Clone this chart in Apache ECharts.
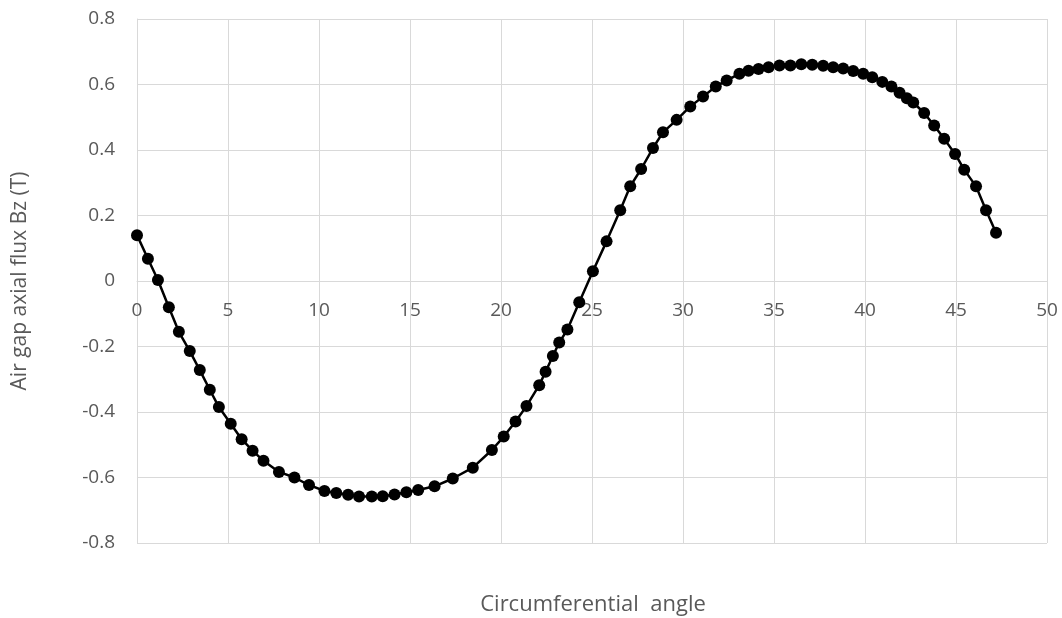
<!DOCTYPE html>
<html>
<head>
<meta charset="utf-8">
<script src="https://cdn.jsdelivr.net/npm/echarts@6/dist/echarts.min.js"></script>
<style>
html,body{margin:0;padding:0;background:#fff;}
#chart{width:1062px;height:618px;}
</style>
</head>
<body>
<div id="chart"></div>
<script>
const angles = [0.0,0.6,1.15,1.75,2.3,2.9,3.45,4.0,4.5,5.15,5.75,6.35,6.95,7.8,8.65,9.45,10.3,10.95,11.6,12.2,12.9,13.5,14.15,14.8,15.45,16.35,17.35,18.45,19.5,20.15,20.8,21.4,22.1,22.45,22.85,23.2,23.65,24.3,25.05,25.8,26.55,27.1,27.7,28.35,28.9,29.65,30.4,31.1,31.8,32.4,33.1,33.6,34.15,34.7,35.3,35.9,36.5,37.1,37.7,38.25,38.8,39.35,39.9,40.4,40.95,41.45,41.9,42.3,42.65,43.25,43.8,44.35,44.95,45.45,46.1,46.65,47.2];
const bz = [0.14,0.068,0.003,-0.080,-0.155,-0.214,-0.272,-0.332,-0.385,-0.436,-0.483,-0.518,-0.549,-0.583,-0.600,-0.623,-0.641,-0.647,-0.653,-0.658,-0.658,-0.657,-0.652,-0.645,-0.638,-0.627,-0.603,-0.570,-0.516,-0.475,-0.429,-0.382,-0.318,-0.277,-0.229,-0.188,-0.148,-0.065,0.030,0.121,0.216,0.289,0.342,0.406,0.454,0.492,0.533,0.563,0.594,0.612,0.633,0.642,0.647,0.653,0.658,0.658,0.662,0.660,0.657,0.653,0.649,0.641,0.633,0.622,0.608,0.594,0.575,0.558,0.545,0.513,0.475,0.434,0.388,0.340,0.289,0.216,0.147];
const xTitle = 'Circumferential  angle';
const yTitle = 'Air gap axial flux Bz (T)';

const data = angles.map((a, i) => [a, bz[i]]);
const chart = echarts.init(document.getElementById('chart'));
const fontFam = '"Open Sans", "Noto Sans", sans-serif';
const gridTop = 19, gridBottom = 75;
const plotH = 618 - gridTop - gridBottom;
chart.setOption({
  animation: false,
  backgroundColor: '#ffffff',
  grid: { left: 137, right: 15, top: gridTop, bottom: gridBottom },
  xAxis: {
    type: 'value', min: 0, max: 50, interval: 5,
    offset: -plotH / 2,
    axisLine: { onZero: false, lineStyle: { color: '#d9d9d9', width: 1 } },
    axisTick: { show: false },
    axisLabel: { color: '#595959', fontSize: 19, fontFamily: fontFam, margin: 20 },
    splitLine: { show: true, lineStyle: { color: '#d9d9d9', width: 1 } }
  },
  yAxis: {
    type: 'value', min: -0.8, max: 0.8, interval: 0.2,
    name: yTitle, nameLocation: 'middle', nameGap: 106,
    nameTextStyle: { color: '#595959', fontSize: 21, fontFamily: fontFam },
    axisLine: { show: true, lineStyle: { color: '#d9d9d9', width: 1 } },
    axisTick: { show: false },
    axisLabel: { color: '#595959', fontSize: 19, fontFamily: fontFam, margin: 22,
      formatter: v => String(Math.round(v * 10) / 10) },
    splitLine: { show: true, lineStyle: { color: '#d9d9d9', width: 1 } }
  },
  graphic: [{
    type: 'text', x: 593, y: 605,
    style: { text: xTitle, fill: '#595959', font: '22px ' + fontFam, textAlign: 'center', textVerticalAlign: 'middle' }
  }],
  series: [{
    type: 'line', data: data,
    symbol: 'circle', symbolSize: 12, showAllSymbol: true,
    lineStyle: { color: '#000', width: 2.5 },
    itemStyle: { color: '#000' }
  }]
});
</script>
</body>
</html>
